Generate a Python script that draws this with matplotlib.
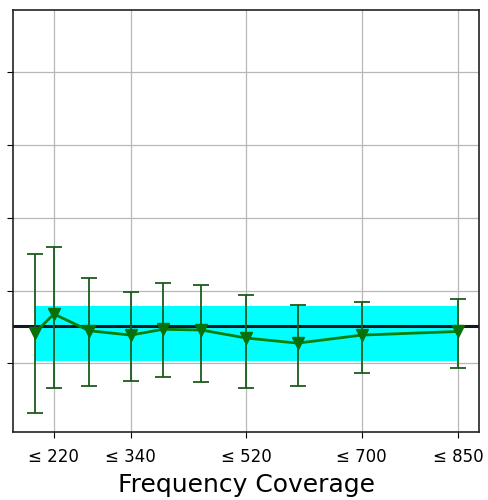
import matplotlib
matplotlib.use("Agg")
import matplotlib.pyplot as plt
import numpy as np

# Data
freq = [190, 220, 275, 340, 390, 450, 520, 600, 700, 850]
score = [0.542, 0.568, 0.545, 0.539, 0.547, 0.546, 0.535, 0.528, 0.539, 0.544]
upper = [0.651, 0.660, 0.618, 0.598, 0.611, 0.608, 0.594, 0.580, 0.585, 0.588]
lower = [0.432, 0.467, 0.469, 0.476, 0.482, 0.474, 0.467, 0.469, 0.487, 0.494]
reference = 0.5515
band_low, band_high = 0.5034, 0.579
tick_freqs = [220, 340, 520, 700, 850]
tick_labels = ["≤ 220", "≤ 340", "≤ 520", "≤ 700", "≤ 850"]
ytick_vals = [0.5, 0.6, 0.7, 0.8, 0.9]

fig = plt.figure(figsize=(4.89, 5.0), dpi=100)
ax = fig.add_axes([0.0276, 0.136, 0.952, 0.844])

ax.fill_between([freq[0], freq[-1]], band_low, band_high, color="cyan", zorder=1, linewidth=0)
ax.axhline(reference, color="#111822", linewidth=2.2, zorder=2)

err = np.array([np.array(score) - np.array(lower), np.array(upper) - np.array(score)])
ax.errorbar(freq, score, yerr=err, fmt="none", ecolor="#1d5a1d", elinewidth=1.3,
            capsize=5.5, capthick=1.3, zorder=3)
ax.plot(freq, score, color="#0a800a", linewidth=2.0, marker="v", markersize=8,
        markerfacecolor="#0a700a", markeredgecolor="#0a700a", zorder=4)

ax.set_ylim(0.4059, 0.9856)
ax.set_yticks(ytick_vals)
ax.set_yticklabels([])
ax.set_xticks(tick_freqs)
ax.set_xticklabels(tick_labels, fontsize=12)
ax.tick_params(axis="x", length=4.5, pad=7)
ax.tick_params(axis="y", length=4.5)
ax.set_xlabel("Frequency Coverage", fontsize=18, labelpad=5)
ax.grid(True, color="#b8b8b8", linewidth=0.9, zorder=0)
ax.set_axisbelow(True)
for s in ax.spines.values():
    s.set_color("#222222")
    s.set_linewidth(1.2)

fig.savefig("out.png", dpi=100)
